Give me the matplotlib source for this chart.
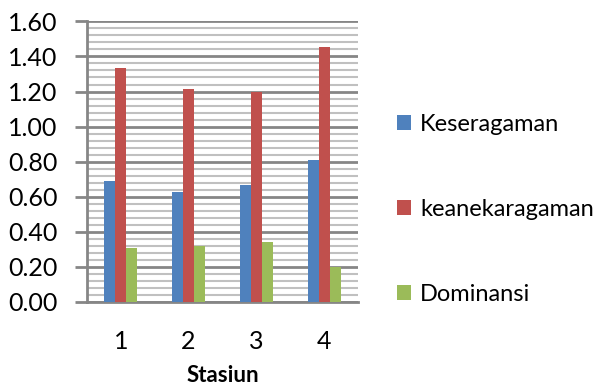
import numpy as np
import matplotlib.pyplot as plt
from matplotlib.ticker import MultipleLocator

# Data per stasiun
stasiun = ['1', '2', '3', '4']
keseragaman = [0.69, 0.625, 0.665, 0.81]
keanekaragaman = [1.335, 1.215, 1.195, 1.455]
dominansi = [0.31, 0.32, 0.34, 0.20]

labels = ['Keseragaman', 'keanekaragaman', 'Dominansi']
colors = ['#4f81bd', '#c0504d', '#9bbb59']

plt.rcParams['font.family'] = ['Lato', 'DejaVu Sans']

fig = plt.figure(figsize=(6.07, 3.89), dpi=100)
ax = fig.add_axes([0.143, 0.224, 0.447, 0.721])

x = np.arange(len(stasiun))
w = 0.163
for i, (vals, lab, c) in enumerate(zip([keseragaman, keanekaragaman, dominansi], labels, colors)):
    ax.bar(x + (i - 1) * w, vals, w, color=c, label=lab, zorder=3)

ax.set_xlim(-0.5, 3.5)
ax.set_ylim(0, 1.6)
ax.yaxis.set_major_locator(MultipleLocator(0.2))
ax.yaxis.set_minor_locator(MultipleLocator(0.04))
ax.set_yticklabels([f'{v:.2f}' for v in ax.get_yticks()])
ax.set_xticks(x)
ax.set_xticklabels(stasiun)

ax.grid(axis='y', which='major', color='#868686', linewidth=2, zorder=0)
ax.grid(axis='y', which='minor', color='#c0c0c0', linewidth=1.5, zorder=0)

for s in ['top', 'right']:
    ax.spines[s].set_visible(False)
ax.spines['left'].set_color('#868686')
ax.spines['left'].set_linewidth(2)
ax.spines['bottom'].set_color('#868686')
ax.spines['bottom'].set_linewidth(2)

ax.tick_params(axis='y', which='major', length=9, width=2, color='#868686', labelsize=18, pad=12)
ax.tick_params(axis='y', which='minor', length=0)
ax.tick_params(axis='x', length=0, labelsize=18, pad=20)

ax.set_xlabel('Stasiun', fontsize=16, fontweight='bold', labelpad=9)

fig.legend(loc='center left', bbox_to_anchor=(0.638, 0.462), frameon=False,
           fontsize=17, handlelength=0.6, handleheight=0.6, handletextpad=0.4,
           labelspacing=2.7, borderaxespad=0)

fig.savefig('out.png', dpi=100)
